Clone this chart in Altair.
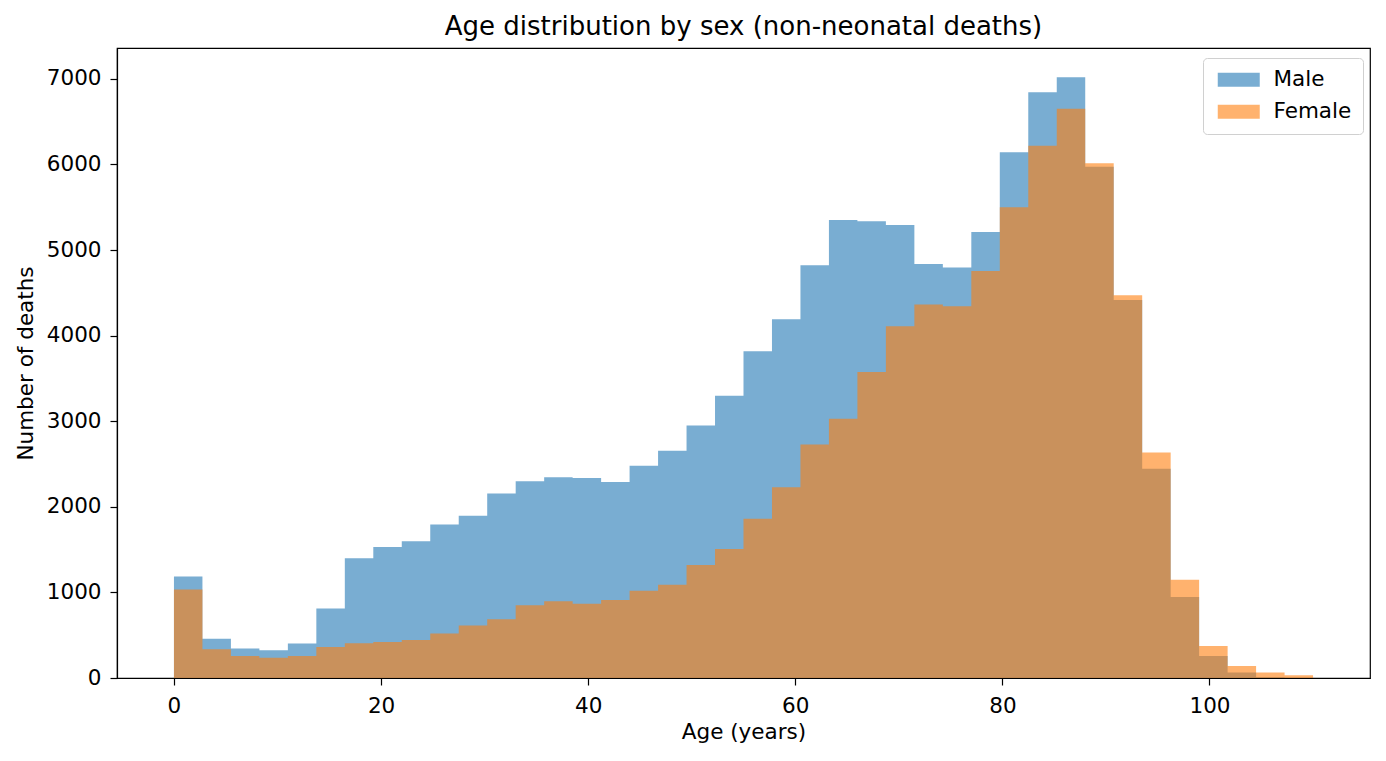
import altair as alt
import pandas as pd

bin_width = 2.75
n_bins = 40
bin_start = [round(i * bin_width, 4) for i in range(n_bins)]
bin_end_last = round(n_bins * bin_width, 4)

male = [1185, 460, 345, 325, 402, 811, 1398, 1530, 1597, 1793, 1896, 2154, 2299, 2345, 2337,
        2289, 2481, 2655, 2950, 3298, 3816, 4190, 4823, 5352, 5336, 5293, 4836, 4797, 5209,
        6142, 6842, 7018, 5974, 4416, 2446, 946, 258, 64, 10, 3]
female = [1034, 336, 257, 238, 257, 363, 406, 421, 445, 521, 612, 687, 851, 898, 866,
          910, 1019, 1089, 1320, 1508, 1861, 2227, 2727, 3030, 3574, 4109, 4364, 4344, 4756,
          5499, 6218, 6649, 6013, 4472, 2634, 1147, 375, 140, 64, 31]

series = ["Male", "Female"]
colors = ["#1f77b4", "#ff7f0e"]

rows = []
for s, vals in (("Male", male), ("Female", female)):
    for a, v in zip(bin_start, vals):
        rows.append({"sex": s, "age": a, "count": v})
    # closing edge of the last bin for the step outline
    rows.append({"sex": s, "age": bin_end_last, "count": vals[-1]})
df = pd.DataFrame(rows)

FONT = "DejaVu Sans"
FS = 21.5

base = alt.Chart(df).mark_area(interpolate="step-after", fillOpacity=0.6).encode(
    x=alt.X("age:Q", scale=alt.Scale(domain=[-5.5, 115.5], nice=False, zero=False),
            axis=alt.Axis(values=[0, 20, 40, 60, 80, 100], title="Age (years)", grid=False,
                          format="d")),
    y=alt.Y("count:Q", scale=alt.Scale(domain=[0, 7360], nice=False), stack=None,
            axis=alt.Axis(values=[0, 1000, 2000, 3000, 4000, 5000, 6000, 7000],
                          title="Number of deaths", grid=False, format="d")),
    color=alt.Color("sex:N", scale=alt.Scale(domain=series, range=colors),
                    sort=series,
                    legend=alt.Legend(title=None, orient="none", legendX=1086, legendY=10,
                                      symbolType="M-1,-1L5,-1L5,1L-1,1Z", symbolSize=196,
                                      symbolOpacity=0.6, symbolStrokeWidth=0,
                                      labelFontSize=FS, labelFont=FONT, labelColor="black",
                                      labelOffset=38, rowPadding=9,
                                      padding=11, strokeColor="#d0d0d0", fillColor="white",
                                      cornerRadius=4)),
)

male_layer = base.transform_filter(alt.datum.sex == "Male")
female_layer = base.transform_filter(alt.datum.sex == "Female")

chart = alt.layer(male_layer, female_layer).properties(
    width=1253, height=630,
    title=alt.TitleParams("Age distribution by sex (non-neonatal deaths)", fontSize=26,
                          font=FONT, fontWeight="normal", color="black", anchor="middle",
                          offset=8),
    autosize=alt.AutoSizeParams(type="none"),
    padding={"left": 109, "top": 40, "right": 8, "bottom": 75},
).configure_view(
    stroke="black", strokeWidth=1.2
).configure_axis(
    labelFont=FONT, titleFont=FONT, labelFontSize=FS, titleFontSize=FS,
    labelColor="black", titleColor="black", titleFontWeight="normal",
    tickColor="black", tickSize=7, tickWidth=1.2, domainColor="black", domainWidth=1.2,
).configure_axisX(
    titlePadding=5, labelPadding=10
).configure_axisY(
    titlePadding=9, labelPadding=9
)

chart.save("out.html", embed_options={"renderer": "svg", "actions": False})
